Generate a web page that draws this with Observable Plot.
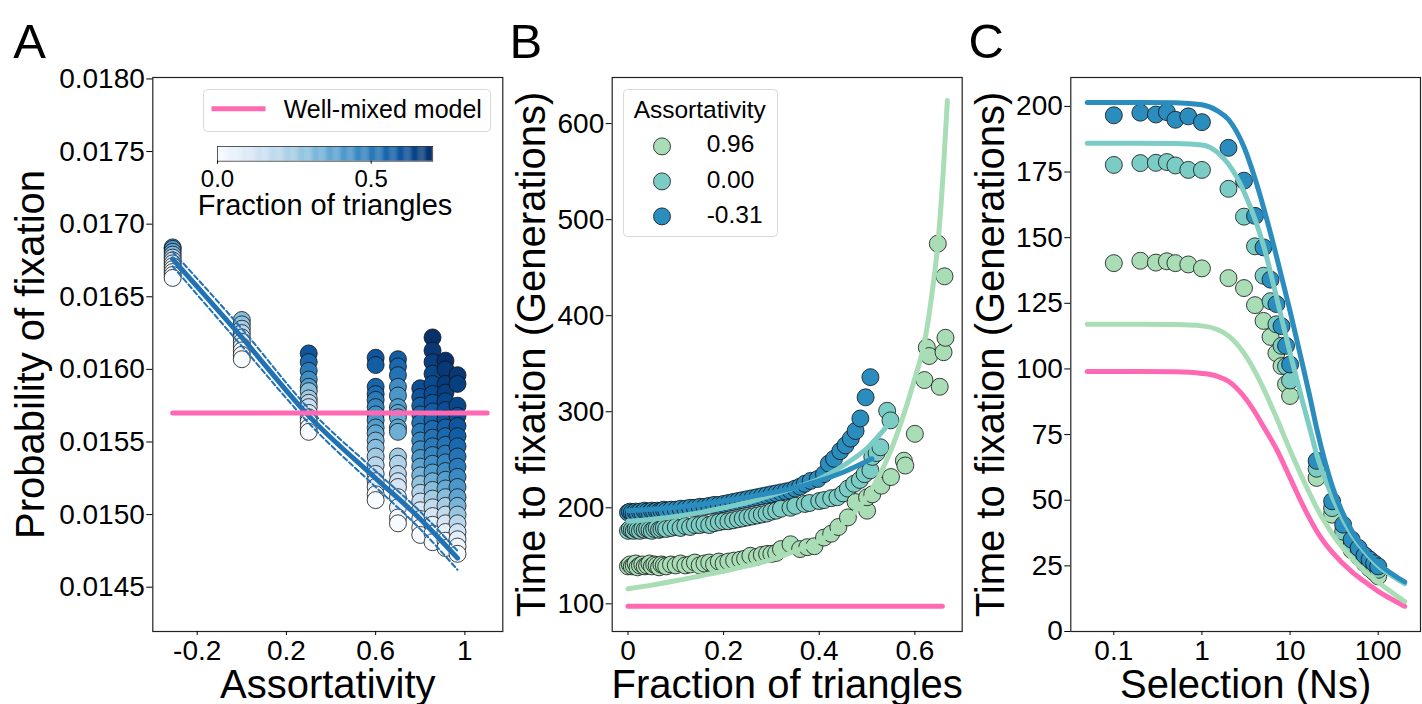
<!DOCTYPE html>
<html>
<head>
<meta charset="utf-8">
<script src="https://cdn.jsdelivr.net/npm/d3@7"></script>
<script src="https://cdn.jsdelivr.net/npm/@observablehq/plot@0.6"></script>
<style>
  body { margin: 0; background: #fff; }
  #fig { position: relative; width: 1422px; height: 704px; overflow: hidden; background: #fff;
         font-family: "Liberation Sans", Arial, Helvetica, sans-serif; }
</style>
</head>
<body>
<div id="fig"></div>
<script>
// ---------------- Panel A data ----------------
const colAssort = [-0.31, 0.0, 0.3, 0.6, 0.7, 0.8, 0.855, 0.913, 0.967];
const probCol1 = [0.01684, 0.01683, 0.01681, 0.01679, 0.01677, 0.01675, 0.01673, 0.01671, 0.01669, 0.01667, 0.01665, 0.01663];
const triCol1  = [0.45, 0.42, 0.38, 0.3, 0.22, 0.15, 0.1, 0.06, 0.03, 0.02, 0.01, 0.0];
const probCol2 = [0.01634, 0.01631, 0.01628, 0.01625, 0.01622, 0.01619, 0.01616, 0.01613, 0.01610, 0.01607];
const triCol2  = [0.3, 0.28, 0.25, 0.2, 0.12, 0.08, 0.04, 0.02, 0.01, 0.0];
const probCol3 = [0.01611, 0.01605, 0.01599, 0.01593, 0.01588, 0.01585, 0.01580, 0.01577, 0.01574, 0.01570, 0.01567, 0.01564, 0.01560, 0.01557];
const triCol3  = [0.6, 0.55, 0.5, 0.45, 0.4, 0.3, 0.25, 0.2, 0.15, 0.1, 0.06, 0.03, 0.01, 0.0];
const probCol4 = [0.01608, 0.01603, 0.01588, 0.01583, 0.01579, 0.01574, 0.01569, 0.01565, 0.01560, 0.01556, 0.01551, 0.01546, 0.01540, 0.01534, 0.01528, 0.01523, 0.01519, 0.01514, 0.01510];
const triCol4  = [0.6, 0.58, 0.56, 0.54, 0.5, 0.47, 0.44, 0.42, 0.4, 0.37, 0.33, 0.3, 0.25, 0.2, 0.15, 0.1, 0.06, 0.03, 0.0];
const probCol5 = [0.01607, 0.01602, 0.01596, 0.01588, 0.01582, 0.01574, 0.01570, 0.01567, 0.01560, 0.01557, 0.01540, 0.01535, 0.01528, 0.01523, 0.01519, 0.01512, 0.01505, 0.01498, 0.01494];
const triCol5  = [0.58, 0.55, 0.52, 0.45, 0.42, 0.4, 0.38, 0.36, 0.38, 0.35, 0.25, 0.22, 0.2, 0.15, 0.12, 0.08, 0.05, 0.02, 0.0];
const probCol6 = [0.01587, 0.01581, 0.01575, 0.01569, 0.01563, 0.01557, 0.01551, 0.01545, 0.01539, 0.01533, 0.01527, 0.01521, 0.01515, 0.01509, 0.01503, 0.01497, 0.01491, 0.01486];
const triCol6  = [0.62, 0.6, 0.57, 0.55, 0.52, 0.5, 0.47, 0.45, 0.42, 0.38, 0.33, 0.28, 0.22, 0.16, 0.1, 0.05, 0.02, 0.0];
const probCol7 = [0.01622, 0.01613, 0.01605, 0.01597, 0.01590, 0.01583, 0.01577, 0.01571, 0.01565, 0.01559, 0.01553, 0.01547, 0.01541, 0.01535, 0.01529, 0.01523, 0.01517, 0.01511, 0.01505, 0.01499, 0.01493, 0.01487, 0.01481];
const triCol7  = [0.7, 0.68, 0.66, 0.64, 0.63, 0.62, 0.6, 0.58, 0.56, 0.54, 0.52, 0.5, 0.47, 0.44, 0.4, 0.35, 0.3, 0.25, 0.18, 0.12, 0.06, 0.02, 0.0];
const probCol8 = [0.01606, 0.01600, 0.01590, 0.01584, 0.01578, 0.01572, 0.01566, 0.01560, 0.01554, 0.01548, 0.01542, 0.01536, 0.01530, 0.01524, 0.01518, 0.01512, 0.01506, 0.01500, 0.01494, 0.01488, 0.01482, 0.01477];
const triCol8  = [0.7, 0.68, 0.67, 0.66, 0.64, 0.62, 0.6, 0.57, 0.55, 0.52, 0.5, 0.47, 0.44, 0.4, 0.36, 0.3, 0.24, 0.18, 0.12, 0.06, 0.02, 0.0];
const probCol9 = [0.01596, 0.01590, 0.01575, 0.01568, 0.01561, 0.01554, 0.01547, 0.01540, 0.01533, 0.01526, 0.01519, 0.01512, 0.01506, 0.01500, 0.01494, 0.01488, 0.01483, 0.01478, 0.01473];
const triCol9  = [0.68, 0.66, 0.64, 0.62, 0.6, 0.58, 0.55, 0.52, 0.5, 0.46, 0.42, 0.38, 0.33, 0.27, 0.2, 0.13, 0.07, 0.03, 0.0];

const fitX  = [-0.31, 0, 0.3, 0.6, 0.8, 0.967];
const fitY  = [0.01676, 0.01622, 0.01568, 0.01525, 0.01497, 0.01470];
const fitHi = [0.01681, 0.01628, 0.01573, 0.01530, 0.01502, 0.01475];
const fitLo = [0.01671, 0.01616, 0.01563, 0.01519, 0.01490, 0.01462];
const wellMixedAX = [-0.31, 1.1];
const wellMixedAY = [0.01570, 0.01570];

const ticksAX = [-0.2, 0.2, 0.6, 1];
const ticksAY = [0.0145, 0.0150, 0.0155, 0.0160, 0.0165, 0.0170, 0.0175, 0.0180];
const ticksTri = [0, 0.5];

// ---------------- Panel B data ----------------
const greenBX = [0, 0.004, 0.008, 0.012, 0.016, 0.02, 0.025, 0.03, 0.035, 0.04, 0.045, 0.05, 0.055, 0.06, 0.065, 0.07, 0.075, 0.08, 0.09, 0.1, 0.11, 0.12, 0.13, 0.14, 0.15, 0.16, 0.17, 0.18, 0.19, 0.2, 0.21, 0.222, 0.235, 0.245, 0.256, 0.27, 0.28, 0.291,
                 0.3, 0.31, 0.32, 0.34, 0.36, 0.375, 0.39, 0.41, 0.425, 0.44, 0.46, 0.476, 0.5, 0.5, 0.511, 0.53, 0.55, 0.577, 0.58, 0.6, 0.62, 0.625, 0.63, 0.648, 0.652, 0.66, 0.662, 0.664];
const greenBY = [139, 141, 139, 140, 142, 138, 140, 141, 139, 140, 142, 139, 141, 140, 138, 141, 140, 139, 141, 140, 142, 140, 141, 143, 140, 142, 143, 141, 144, 142, 144, 145, 146, 147, 150, 149, 151, 152,
                 152, 153, 157, 162, 157, 159, 160, 169, 173, 180, 190, 206, 197, 211, 214, 223, 232, 249, 244, 277, 333, 367, 358, 475, 326, 362, 441, 377];
const tealBX = [0, 0.004, 0.008, 0.012, 0.016, 0.02, 0.025, 0.03, 0.035, 0.04, 0.045, 0.05, 0.055, 0.06, 0.065, 0.07, 0.075, 0.08, 0.09, 0.1, 0.11, 0.12, 0.13, 0.14, 0.15, 0.16, 0.17, 0.18, 0.19, 0.2, 0.21, 0.22, 0.23, 0.24, 0.25, 0.26, 0.27, 0.28, 0.29, 0.3, 0.31, 0.32, 0.34, 0.35, 0.37, 0.38, 0.4, 0.41, 0.425, 0.438, 0.45, 0.46, 0.473, 0.485, 0.495, 0.507, 0.511, 0.52, 0.528, 0.542, 0.549];
const tealBY = [176, 178, 177, 176, 178, 177, 176, 178, 177, 178, 177, 176, 178, 179, 177, 178, 179, 178, 179, 180, 179, 181, 180, 182, 182, 183, 182, 184, 185, 186, 186, 187, 188, 189, 190, 191, 192, 193, 194, 196, 197, 199, 200, 202, 204, 205, 207, 208, 210, 211, 215, 220, 225, 229, 235, 239, 253, 257, 263, 301, 291];
const blueBX = [0, 0.004, 0.008, 0.012, 0.016, 0.02, 0.025, 0.03, 0.035, 0.04, 0.045, 0.05, 0.055, 0.06, 0.065, 0.07, 0.075, 0.08, 0.09, 0.1, 0.11, 0.12, 0.13, 0.14, 0.15, 0.16, 0.17, 0.18, 0.19, 0.2, 0.21, 0.22, 0.23, 0.24, 0.25, 0.26, 0.27, 0.28, 0.29, 0.3, 0.31, 0.32, 0.33, 0.34, 0.35, 0.36, 0.37, 0.382, 0.397, 0.41, 0.42, 0.431, 0.444, 0.455, 0.466, 0.476, 0.486, 0.497, 0.507];
const blueBY = [195, 196, 195, 194, 196, 195, 196, 195, 197, 196, 195, 197, 196, 197, 196, 197, 198, 197, 198, 198, 199, 199, 200, 200, 201, 201, 202, 203, 203, 204, 205, 206, 207, 208, 209, 210, 211, 212, 213, 214, 215, 216, 217, 218, 220, 222, 225, 228, 230, 235, 246, 251, 259, 265, 272, 280, 293, 315, 336];

const greenCurveX = [0, 0.05, 0.1, 0.15, 0.2, 0.25, 0.3, 0.35, 0.4, 0.43, 0.46, 0.49, 0.52, 0.55, 0.58, 0.6, 0.62, 0.635, 0.65, 0.66, 0.668];
const greenCurveY = [115.6, 119.5, 124, 129, 134, 139.5, 146, 155, 166, 175, 188, 205, 228, 260, 302, 335, 372, 420, 485, 555, 624];
const tealCurveX = [0, 0.05, 0.1, 0.15, 0.2, 0.25, 0.3, 0.35, 0.4, 0.45, 0.5, 0.54];
const tealCurveY = [186, 188, 191, 195, 200, 205.5, 213, 221, 230, 244, 262, 284];
const blueCurveX = [0, 0.05, 0.1, 0.15, 0.2, 0.25, 0.3, 0.35, 0.4, 0.45, 0.51];
const blueCurveY = [197, 198.5, 200.5, 203.5, 207, 211, 215.5, 221, 228, 237, 251];
const wellMixedBX = [0, 0.6575];
const wellMixedBY = [97.5, 97.5];

const ticksBX = [0, 0.2, 0.4, 0.6];
const ticksBY = [100, 200, 300, 400, 500, 600];
const legendLabels = ["0.96", "0.00", "-0.31"];

// ---------------- Panel C data ----------------
const nsPts = [0.1, 0.2, 0.3, 0.4, 0.5, 0.7, 1, 2, 3, 4, 5, 6, 7, 8, 9, 10, 20, 30, 40, 50, 60, 70, 80, 90, 100];
const tGreenC = [140.3, 141.2, 140.5, 141, 140.3, 139.8, 138.3, 134.6, 130.8, 124.3, 118.3, 112.2, 106, 101.1, 94.2, 89.7, 58.5, 44.5, 36, 31, 28.5, 26, 24, 22.5, 21];
const tTealC  = [177.7, 178.4, 178.5, 178.8, 177.5, 175.8, 175.8, 168.6, 158, 146.7, 135.5, 125.8, 117, 108.8, 101, 95.6, 62, 47, 38, 33, 30, 28, 26, 24.8, 23.5];
const tBlueC  = [196.6, 197.6, 196.9, 197.8, 194.9, 196.2, 194, 184.2, 171.7, 158.3, 146.3, 134, 124.7, 116.3, 108.8, 101.7, 65, 49.6, 40.7, 35, 31.8, 29, 27.4, 26, 24.8];

const nsLine = [0.05, 0.1, 0.2, 0.5, 1, 1.5, 2, 3, 4, 5, 7, 10, 14, 17, 20, 25, 30, 50, 70, 100, 150, 200];
const lPinkC  = [99, 99, 99, 98.9, 98.3, 97.2, 95.3, 89.5, 83.5, 78, 69.5, 58.5, 48, 42.5, 38.3, 33.5, 30.2, 22.8, 19, 15.3, 11.9, 9.6];
const lGreenC = [117, 117, 117, 116.9, 116.4, 115, 112.6, 106, 99, 92.5, 81.5, 69, 58, 52, 47.2, 41.5, 37.3, 28, 23, 18.7, 14.4, 11.4];
const lTealC  = [186, 186, 186, 185.9, 185.3, 182.5, 178, 167.5, 157, 147, 127.5, 106, 87, 76.5, 67.5, 58, 51.5, 37, 30.5, 25, 20.8, 18.2];
const lBlueC  = [201.5, 201.5, 201.5, 201.4, 200.6, 198.3, 195, 184.5, 172.5, 161.5, 143, 122, 101, 88.5, 77.5, 64.5, 55.5, 38.5, 31.5, 26, 21.5, 18.9];

const ticksCX = [0.1, 1, 10, 100];
const ticksCY = [0, 25, 50, 75, 100, 125, 150, 175, 200];

// ---------------- styling ----------------
const FONT = '"Liberation Sans", Arial, Helvetica, sans-serif';
const PINK = "#ff69b4", GREEN = "#a8ddb5", TEAL = "#7bccc4", BLUE = "#2b8cbe", FITBLUE = "#2171b5";
const svgStyle = {fontFamily: FONT, fontSize: "28px", color: "#000", background: "transparent", overflow: "visible"};
const fig = document.getElementById("fig");
function place(el, left, top) {
  el.style.position = "absolute";
  el.style.left = left + "px";
  el.style.top = top + "px";
  fig.appendChild(el);
}
const zip = (xs, ys) => xs.map((x, i) => ({x, y: ys[i]}));
const fmtPlain = d => String(d);
const AX = {tickSize: 4, tickPadding: 5, fontSize: 28, label: null};
const AY = {tickSize: 6, tickPadding: 2, fontSize: 28, label: null};
const TITLE = 40;
const yTitle = (txt, dx) => Plot.text([txt], {frameAnchor: "left", dx, rotate: -90, textAnchor: "middle", lineAnchor: "middle", fontSize: TITLE});
const xTitle = (txt) => Plot.text([txt], {frameAnchor: "bottom", dy: 66, textAnchor: "middle", lineAnchor: "bottom", fontSize: TITLE});
const letter = (txt, dx) => Plot.text([txt], {frameAnchor: "top-left", dx, dy: -20, textAnchor: "start", lineAnchor: "bottom", fontSize: 49});

// ---------------- Panel A ----------------
const probCols = [probCol1, probCol2, probCol3, probCol4, probCol5, probCol6, probCol7, probCol8, probCol9];
const triCols = [triCol1, triCol2, triCol3, triCol4, triCol5, triCol6, triCol7, triCol8, triCol9];
const ptsA = [];
colAssort.forEach((a, i) => probCols[i].forEach((p, j) => ptsA.push({a, p, t: triCols[i][j]})));
const fitA = fitX.map((x, i) => ({x, y: fitY[i], hi: fitHi[i], lo: fitLo[i]}));

const plotA = Plot.plot({
  width: 505, height: 704,
  marginLeft: 152.3, marginRight: 2.7, marginTop: 77, marginBottom: 73,
  style: svgStyle,
  x: {domain: [-0.399, 1.17]},
  y: {domain: [0.014195, 0.01801]},
  color: {type: "linear", scheme: "blues", domain: [0, 0.7]},
  marks: [
    Plot.dot(ptsA, {x: "a", y: "p", fill: "t", r: 8.5, stroke: "#111", strokeWidth: 0.8}),
    Plot.line(fitA, {x: "x", y: "hi", stroke: FITBLUE, strokeWidth: 2, strokeDasharray: "5,3", curve: "monotone-x"}),
    Plot.line(fitA, {x: "x", y: "lo", stroke: FITBLUE, strokeWidth: 2, strokeDasharray: "5,3", curve: "monotone-x"}),
    Plot.line(fitA, {x: "x", y: "y", stroke: FITBLUE, strokeWidth: 5, curve: "monotone-x"}),
    Plot.line(zip(wellMixedAX, wellMixedAY), {x: "x", y: "y", stroke: PINK, strokeWidth: 5}),
    Plot.frame({stroke: "#222", strokeWidth: 1.2}),
    Plot.axisX({...AX, ticks: ticksAX, tickFormat: fmtPlain}),
    Plot.axisY({...AY, ticks: ticksAY, tickFormat: d => d.toFixed(4)}),
    xTitle("Assortativity"),
    yTitle("Probability of fixation", -121.8),
    letter("A", -139.5)
  ]
});
place(plotA, 0, 0);

// ---------------- Panel B ----------------
const plotB = Plot.plot({
  width: 462, height: 704,
  marginLeft: 106.7, marginRight: 5.3, marginTop: 77, marginBottom: 73,
  style: svgStyle,
  x: {domain: [-0.033, 0.699]},
  y: {domain: [71.2, 648]},
  marks: [
    Plot.dot(zip(blueBX, blueBY), {x: "x", y: "y", r: 8.5, fill: BLUE, stroke: "#111", strokeWidth: 0.8}),
    Plot.dot(zip(tealBX, tealBY), {x: "x", y: "y", r: 8.5, fill: TEAL, stroke: "#111", strokeWidth: 0.8}),
    Plot.dot(zip(greenBX, greenBY), {x: "x", y: "y", r: 8.5, fill: GREEN, stroke: "#111", strokeWidth: 0.8}),
    Plot.line(zip(wellMixedBX, wellMixedBY), {x: "x", y: "y", stroke: PINK, strokeWidth: 5}),
    Plot.line(zip(greenCurveX, greenCurveY), {x: "x", y: "y", stroke: GREEN, strokeWidth: 5, curve: "monotone-x"}),
    Plot.line(zip(tealCurveX, tealCurveY), {x: "x", y: "y", stroke: TEAL, strokeWidth: 5, curve: "monotone-x"}),
    Plot.line(zip(blueCurveX, blueCurveY), {x: "x", y: "y", stroke: BLUE, strokeWidth: 5, curve: "monotone-x"}),
    Plot.frame({stroke: "#222", strokeWidth: 1.2}),
    Plot.axisX({...AX, ticks: ticksBX, tickFormat: fmtPlain}),
    Plot.axisY({...AY, ticks: ticksBY, tickFormat: fmtPlain}),
    xTitle("Fraction of triangles"),
    yTitle("Time to fixation (Generations)", -80.2),
    letter("B", -102.7)
  ]
});
place(plotB, 505, 0);

// ---------------- Panel C ----------------
const plotC = Plot.plot({
  width: 455, height: 704,
  marginLeft: 103.3, marginRight: 2, marginTop: 77, marginBottom: 73,
  style: svgStyle,
  x: {type: "log", domain: [0.0325, 302]},
  y: {domain: [0, 211]},
  marks: [
    Plot.dot(zip(nsPts, tGreenC), {x: "x", y: "y", r: 8.5, fill: GREEN, stroke: "#111", strokeWidth: 0.8}),
    Plot.dot(zip(nsPts, tTealC), {x: "x", y: "y", r: 8.5, fill: TEAL, stroke: "#111", strokeWidth: 0.8}),
    Plot.dot(zip(nsPts, tBlueC), {x: "x", y: "y", r: 8.5, fill: BLUE, stroke: "#111", strokeWidth: 0.8}),
    Plot.line(zip(nsLine, lPinkC), {x: "x", y: "y", stroke: PINK, strokeWidth: 5, curve: "monotone-x"}),
    Plot.line(zip(nsLine, lGreenC), {x: "x", y: "y", stroke: GREEN, strokeWidth: 5, curve: "monotone-x"}),
    Plot.line(zip(nsLine, lTealC), {x: "x", y: "y", stroke: TEAL, strokeWidth: 5, curve: "monotone-x"}),
    Plot.line(zip(nsLine, lBlueC), {x: "x", y: "y", stroke: BLUE, strokeWidth: 5, curve: "monotone-x"}),
    Plot.frame({stroke: "#222", strokeWidth: 1.2}),
    Plot.axisX({...AX, ticks: ticksCX, tickFormat: fmtPlain}),
    Plot.axisY({...AY, ticks: ticksCY, tickFormat: fmtPlain}),
    xTitle("Selection (Ns)"),
    yTitle("Time to fixation (Generations)", -79.8),
    letter("C", -102.3)
  ]
});
place(plotC, 967, 0);

// ---------------- Legend A (well-mixed) ----------------
const legA = d3.create("svg").attr("width", 289).attr("height", 44).style("overflow", "visible");
legA.append("rect").attr("x", 0.5).attr("y", 0.5).attr("width", 287).attr("height", 42).attr("rx", 4)
  .attr("fill", "white").attr("fill-opacity", 0.85).attr("stroke", "#d9d9d9");
legA.append("line").attr("x1", 8.5).attr("x2", 62.5).attr("y1", 19.7).attr("y2", 19.7)
  .attr("stroke", PINK).attr("stroke-width", 5);
legA.append("text").attr("x", 80.7).attr("y", 29).attr("font-size", 25).attr("font-family", FONT)
  .attr("fill", "#000").text("Well-mixed model");
place(legA.node(), 203.3, 89.3);

// ---------------- Colorbar A ----------------
const rampStops = d3.range(0, 0.7, 0.0035);
const cbar = Plot.plot({
  width: 255.2, height: 80,
  marginLeft: 20, marginRight: 20, marginTop: 0, marginBottom: 65.3,
  style: {...svgStyle, fontSize: "24px"},
  x: {domain: [0, 0.7]},
  color: {type: "linear", scheme: "blues", domain: [0, 0.7]},
  marks: [
    Plot.rect(rampStops, {x1: d => d, x2: d => Math.min(0.7, d + 0.004), fill: d => d + 0.00175}),
    Plot.frame({stroke: "#333", strokeWidth: 0.8}),
    Plot.axisX({ticks: ticksTri, tickFormat: d => d.toFixed(1), tickSize: 3, tickPadding: 6, fontSize: 24, label: null}),
    Plot.text(["Fraction of triangles"], {frameAnchor: "bottom", dy: 54.3, textAnchor: "middle", lineAnchor: "bottom", fontSize: 29})
  ]
});
place(cbar, 197.3, 146);

// ---------------- Legend B (assortativity) ----------------
const legB = d3.create("svg").attr("width", 156).attr("height", 149).style("overflow", "visible");
legB.append("rect").attr("x", 0.5).attr("y", 0.5).attr("width", 154).attr("height", 147).attr("rx", 4)
  .attr("fill", "white").attr("fill-opacity", 0.85).attr("stroke", "#d9d9d9");
legB.append("text").attr("x", 76.7).attr("y", 29).attr("text-anchor", "middle").attr("font-size", 24.5)
  .attr("font-family", FONT).attr("fill", "#000").text("Assortativity");
const legColors = [GREEN, TEAL, BLUE];
const legCy = [57.4, 92.4, 127.4];
const legBase = [63.4, 99, 134];
legendLabels.forEach((lab, i) => {
  legB.append("circle").attr("cx", 39).attr("cy", legCy[i]).attr("r", 8.5)
    .attr("fill", legColors[i]).attr("stroke", "#111").attr("stroke-width", 0.8);
  legB.append("text").attr("x", 83.7).attr("y", legBase[i]).attr("font-size", 24.5)
    .attr("font-family", FONT).attr("fill", "#000").text(lab);
});
place(legB.node(), 623.3, 89.3);
</script>
</body>
</html>
